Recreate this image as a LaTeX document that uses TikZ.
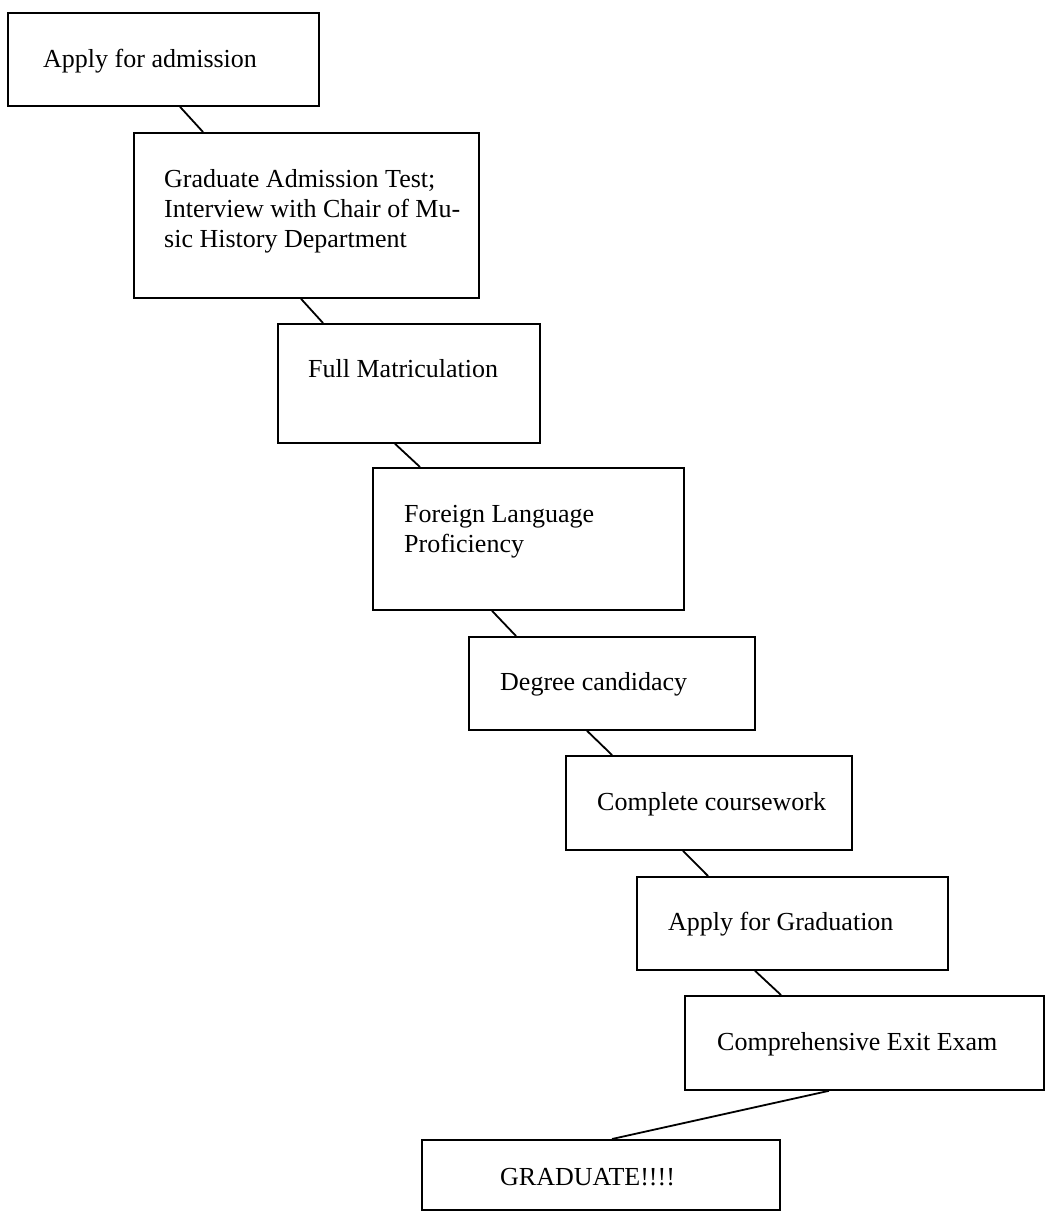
\documentclass[tikz,border=0pt]{standalone}
\usepackage{fontspec}
\setmainfont{Liberation Serif}
\usetikzlibrary{calc}
\begin{document}
\begin{tikzpicture}[x=1pt,y=-1pt,
  stepbox/.style={draw=black, line width=1.8pt, inner sep=0pt, anchor=north west, fill=none},
  lbl/.style={inner sep=0pt, anchor=base west, align=left, font=\fontsize{26}{30}\selectfont},
  conn/.style={draw=black, line width=1.8pt}]
\useasboundingbox (0,0) rectangle (1045,1213);
\fill[white] (0,0) rectangle (1045,1213);
% boxes
\node[stepbox, minimum width=311pt, minimum height=93pt] (b1) at (7,12) {};
\node[stepbox, minimum width=345pt, minimum height=165pt] (b2) at (133,132) {};
\node[stepbox, minimum width=262pt, minimum height=119pt] (b3) at (277,323) {};
\node[stepbox, minimum width=311pt, minimum height=142pt] (b4) at (372,467) {};
\node[stepbox, minimum width=286pt, minimum height=93pt] (b5) at (468,636) {};
\node[stepbox, minimum width=286pt, minimum height=94pt] (b6) at (565,755) {};
\node[stepbox, minimum width=311pt, minimum height=93pt] (b7) at (636,876) {};
\node[stepbox, minimum width=359pt, minimum height=94pt] (b8) at (684,995) {};
\node[stepbox, minimum width=358pt, minimum height=70pt] (b9) at (421,1139) {};
% texts (base anchor of a multi-line node = last line's baseline)
\node[lbl] (t1) at ($(b1.north west)+(36,55)$) {Apply for admission};
\node[lbl] (t2) at ($(b2.north west)+(31,115)$) {Graduate Admission Test;\\Interview with Chair of Mu-\\sic History Department};
\node[lbl] (t3) at ($(b3.north west)+(31,54)$) {Full Matriculation};
\node[lbl] (t4) at ($(b4.north west)+(32,85)$) {Foreign Language\\Proficiency};
\node[lbl] (t5) at ($(b5.north west)+(32,54)$) {Degree candidacy};
\node[lbl] (t6) at ($(b6.north west)+(32,55)$) {Complete coursework};
\node[lbl] (t7) at ($(b7.north west)+(32,54)$) {Apply for Graduation};
\node[lbl] (t8) at ($(b8.north west)+(33,55)$) {Comprehensive Exit Exam};
\node[lbl] (t9) at ($(b9.north west)+(79,46)$) {GRADUATE!!!!};
% connectors
\draw[conn] ($(b1.south west)+(173,0)$) -- ($(b2.north west)+(70,0)$);
\draw[conn] ($(b2.south west)+(168,0)$) -- ($(b3.north west)+(46,0)$);
\draw[conn] ($(b3.south west)+(118,0)$) -- ($(b4.north west)+(48,0)$);
\draw[conn] ($(b4.south west)+(120,0)$) -- ($(b5.north west)+(48,0)$);
\draw[conn] ($(b5.south west)+(119,0)$) -- ($(b6.north west)+(47,0)$);
\draw[conn] ($(b6.south west)+(118,0)$) -- ($(b7.north west)+(72,0)$);
\draw[conn] ($(b7.south west)+(119,0)$) -- ($(b8.north west)+(97,0)$);
\draw[conn] ($(b8.south west)+(145,0)$) -- ($(b9.north west)+(191,0)$);
\end{tikzpicture}
\end{document}
